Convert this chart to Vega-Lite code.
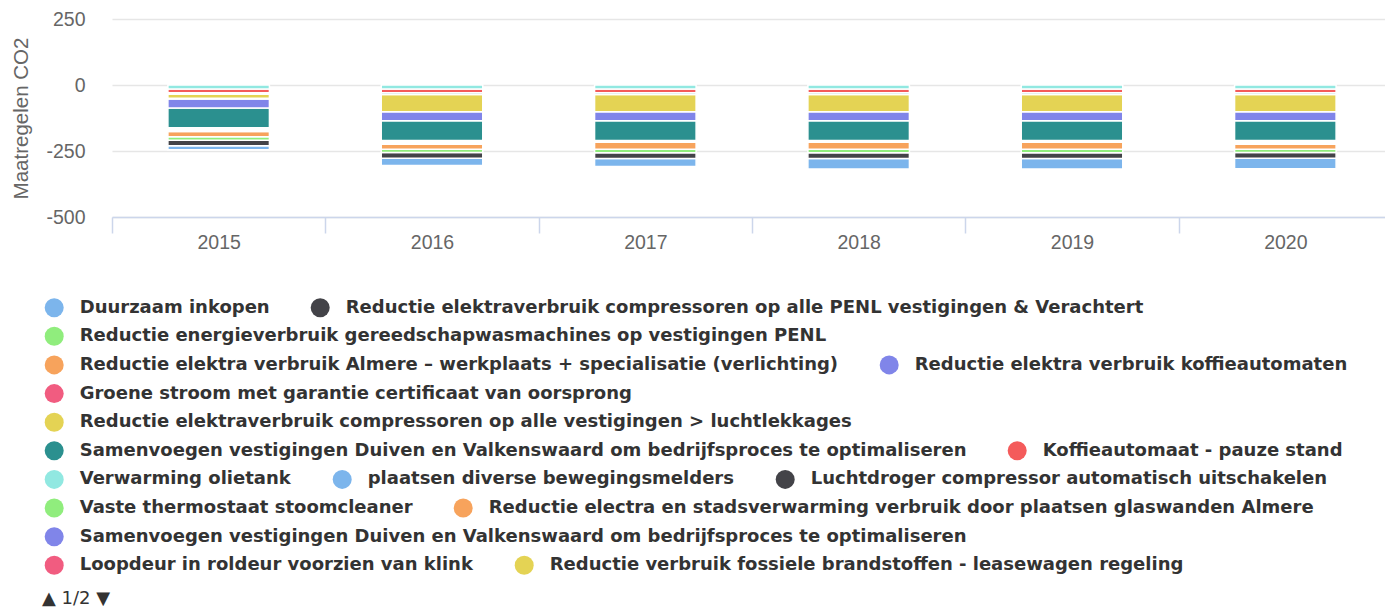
{
  "$schema": "https://vega.github.io/schema/vega-lite/v6.json",
  "width": 1273,
  "height": 198,
  "autosize": {"type": "none"},
  "padding": {"left": 112, "top": 19, "right": 0, "bottom": 391},
  "background": "white",
  "title": {"text": "▲ 1/2 ▼", "orient": "bottom", "anchor": "start", "frame": "group", "dx": -70, "offset": 15, "font": "DejaVu Sans", "fontSize": 18, "fontWeight": "normal", "color": "#333333"},
  "data": {"values": [
    {"year": "2015", "idx": 1, "series": "Duurzaam inkopen", "value": -15},
    {"year": "2016", "idx": 1, "series": "Duurzaam inkopen", "value": -28},
    {"year": "2017", "idx": 1, "series": "Duurzaam inkopen", "value": -31},
    {"year": "2018", "idx": 1, "series": "Duurzaam inkopen", "value": -40},
    {"year": "2019", "idx": 1, "series": "Duurzaam inkopen", "value": -40},
    {"year": "2020", "idx": 1, "series": "Duurzaam inkopen", "value": -40},
    {"year": "2015", "idx": 2, "series": "Reductie elektraverbruik compressoren op alle PENL vestigingen & Verachtert", "value": -21},
    {"year": "2016", "idx": 2, "series": "Reductie elektraverbruik compressoren op alle PENL vestigingen & Verachtert", "value": -21},
    {"year": "2017", "idx": 2, "series": "Reductie elektraverbruik compressoren op alle PENL vestigingen & Verachtert", "value": -21},
    {"year": "2018", "idx": 2, "series": "Reductie elektraverbruik compressoren op alle PENL vestigingen & Verachtert", "value": -21},
    {"year": "2019", "idx": 2, "series": "Reductie elektraverbruik compressoren op alle PENL vestigingen & Verachtert", "value": -21},
    {"year": "2020", "idx": 2, "series": "Reductie elektraverbruik compressoren op alle PENL vestigingen & Verachtert", "value": -21},
    {"year": "2015", "idx": 3, "series": "Reductie energieverbruik gereedschapwasmachines op vestigingen PENL", "value": -13},
    {"year": "2016", "idx": 3, "series": "Reductie energieverbruik gereedschapwasmachines op vestigingen PENL", "value": -13},
    {"year": "2017", "idx": 3, "series": "Reductie energieverbruik gereedschapwasmachines op vestigingen PENL", "value": -14},
    {"year": "2018", "idx": 3, "series": "Reductie energieverbruik gereedschapwasmachines op vestigingen PENL", "value": -14},
    {"year": "2019", "idx": 3, "series": "Reductie energieverbruik gereedschapwasmachines op vestigingen PENL", "value": -14},
    {"year": "2020", "idx": 3, "series": "Reductie energieverbruik gereedschapwasmachines op vestigingen PENL", "value": -13},
    {"year": "2015", "idx": 4, "series": "Reductie elektra verbruik Almere – werkplaats + specialisatie (verlichting)", "value": -20},
    {"year": "2016", "idx": 4, "series": "Reductie elektra verbruik Almere – werkplaats + specialisatie (verlichting)", "value": -19},
    {"year": "2017", "idx": 4, "series": "Reductie elektra verbruik Almere – werkplaats + specialisatie (verlichting)", "value": -26},
    {"year": "2018", "idx": 4, "series": "Reductie elektra verbruik Almere – werkplaats + specialisatie (verlichting)", "value": -26},
    {"year": "2019", "idx": 4, "series": "Reductie elektra verbruik Almere – werkplaats + specialisatie (verlichting)", "value": -26},
    {"year": "2020", "idx": 4, "series": "Reductie elektra verbruik Almere – werkplaats + specialisatie (verlichting)", "value": -19},
    {"year": "2015", "idx": 5, "series": "Reductie elektra verbruik koffieautomaten", "value": -5},
    {"year": "2016", "idx": 5, "series": "Reductie elektra verbruik koffieautomaten", "value": -5},
    {"year": "2017", "idx": 5, "series": "Reductie elektra verbruik koffieautomaten", "value": -2},
    {"year": "2018", "idx": 5, "series": "Reductie elektra verbruik koffieautomaten", "value": -2},
    {"year": "2019", "idx": 5, "series": "Reductie elektra verbruik koffieautomaten", "value": -2},
    {"year": "2020", "idx": 5, "series": "Reductie elektra verbruik koffieautomaten", "value": -5},
    {"year": "2015", "idx": 6, "series": "Groene stroom met garantie certificaat van oorsprong", "value": -4},
    {"year": "2016", "idx": 6, "series": "Groene stroom met garantie certificaat van oorsprong", "value": -4},
    {"year": "2017", "idx": 6, "series": "Groene stroom met garantie certificaat van oorsprong", "value": -3},
    {"year": "2018", "idx": 6, "series": "Groene stroom met garantie certificaat van oorsprong", "value": -3},
    {"year": "2019", "idx": 6, "series": "Groene stroom met garantie certificaat van oorsprong", "value": -3},
    {"year": "2020", "idx": 6, "series": "Groene stroom met garantie certificaat van oorsprong", "value": -4},
    {"year": "2015", "idx": 7, "series": "Reductie elektraverbruik compressoren op alle vestigingen > luchtlekkages", "value": -5},
    {"year": "2016", "idx": 7, "series": "Reductie elektraverbruik compressoren op alle vestigingen > luchtlekkages", "value": -5},
    {"year": "2017", "idx": 7, "series": "Reductie elektraverbruik compressoren op alle vestigingen > luchtlekkages", "value": -2},
    {"year": "2018", "idx": 7, "series": "Reductie elektraverbruik compressoren op alle vestigingen > luchtlekkages", "value": -2},
    {"year": "2019", "idx": 7, "series": "Reductie elektraverbruik compressoren op alle vestigingen > luchtlekkages", "value": -2},
    {"year": "2020", "idx": 7, "series": "Reductie elektraverbruik compressoren op alle vestigingen > luchtlekkages", "value": -5},
    {"year": "2015", "idx": 8, "series": "Samenvoegen vestigingen Duiven en Valkenswaard om bedrijfsproces te optimaliseren", "value": -75},
    {"year": "2016", "idx": 8, "series": "Samenvoegen vestigingen Duiven en Valkenswaard om bedrijfsproces te optimaliseren", "value": -75},
    {"year": "2017", "idx": 8, "series": "Samenvoegen vestigingen Duiven en Valkenswaard om bedrijfsproces te optimaliseren", "value": -75},
    {"year": "2018", "idx": 8, "series": "Samenvoegen vestigingen Duiven en Valkenswaard om bedrijfsproces te optimaliseren", "value": -75},
    {"year": "2019", "idx": 8, "series": "Samenvoegen vestigingen Duiven en Valkenswaard om bedrijfsproces te optimaliseren", "value": -75},
    {"year": "2020", "idx": 8, "series": "Samenvoegen vestigingen Duiven en Valkenswaard om bedrijfsproces te optimaliseren", "value": -75},
    {"year": "2015", "idx": 15, "series": "Samenvoegen vestigingen Duiven en Valkenswaard om bedrijfsproces te optimaliseren", "value": -34},
    {"year": "2016", "idx": 15, "series": "Samenvoegen vestigingen Duiven en Valkenswaard om bedrijfsproces te optimaliseren", "value": -34},
    {"year": "2017", "idx": 15, "series": "Samenvoegen vestigingen Duiven en Valkenswaard om bedrijfsproces te optimaliseren", "value": -34},
    {"year": "2018", "idx": 15, "series": "Samenvoegen vestigingen Duiven en Valkenswaard om bedrijfsproces te optimaliseren", "value": -34},
    {"year": "2019", "idx": 15, "series": "Samenvoegen vestigingen Duiven en Valkenswaard om bedrijfsproces te optimaliseren", "value": -34},
    {"year": "2020", "idx": 15, "series": "Samenvoegen vestigingen Duiven en Valkenswaard om bedrijfsproces te optimaliseren", "value": -34},
    {"year": "2015", "idx": 16, "series": "Loopdeur in roldeur voorzien van klink", "value": -3},
    {"year": "2015", "idx": 17, "series": "Reductie verbruik fossiele brandstoffen - leasewagen regeling", "value": -15},
    {"year": "2016", "idx": 17, "series": "Reductie verbruik fossiele brandstoffen - leasewagen regeling", "value": -65},
    {"year": "2017", "idx": 17, "series": "Reductie verbruik fossiele brandstoffen - leasewagen regeling", "value": -65},
    {"year": "2018", "idx": 17, "series": "Reductie verbruik fossiele brandstoffen - leasewagen regeling", "value": -65},
    {"year": "2019", "idx": 17, "series": "Reductie verbruik fossiele brandstoffen - leasewagen regeling", "value": -65},
    {"year": "2020", "idx": 17, "series": "Reductie verbruik fossiele brandstoffen - leasewagen regeling", "value": -65},
    {"year": "2015", "idx": 18, "series": "Overige maatregel 1", "value": -6},
    {"year": "2016", "idx": 18, "series": "Overige maatregel 1", "value": -7},
    {"year": "2017", "idx": 18, "series": "Overige maatregel 1", "value": -7},
    {"year": "2018", "idx": 18, "series": "Overige maatregel 1", "value": -7},
    {"year": "2019", "idx": 18, "series": "Overige maatregel 1", "value": -7},
    {"year": "2020", "idx": 18, "series": "Overige maatregel 1", "value": -7},
    {"year": "2015", "idx": 19, "series": "Overige maatregel 2", "value": -14},
    {"year": "2016", "idx": 19, "series": "Overige maatregel 2", "value": -14},
    {"year": "2017", "idx": 19, "series": "Overige maatregel 2", "value": -14},
    {"year": "2018", "idx": 19, "series": "Overige maatregel 2", "value": -14},
    {"year": "2019", "idx": 19, "series": "Overige maatregel 2", "value": -14},
    {"year": "2020", "idx": 19, "series": "Overige maatregel 2", "value": -14},
    {"year": "2015", "idx": 20, "series": "Overige maatregel 3", "value": -15},
    {"year": "2016", "idx": 20, "series": "Overige maatregel 3", "value": -15},
    {"year": "2017", "idx": 20, "series": "Overige maatregel 3", "value": -15},
    {"year": "2018", "idx": 20, "series": "Overige maatregel 3", "value": -15},
    {"year": "2019", "idx": 20, "series": "Overige maatregel 3", "value": -15},
    {"year": "2020", "idx": 20, "series": "Overige maatregel 3", "value": -15}
  ]},
  "transform": [
    {"stack": "value", "groupby": ["year"], "sort": [{"field": "idx", "order": "descending"}], "as": ["y0", "y1"]}
  ],
  "encoding": {
    "x": {"field": "year", "type": "ordinal", "sort": ["2015", "2016", "2017", "2018", "2019", "2020"],
      "scale": {"domain": ["2015", "2016", "2017", "2018", "2019", "2020"], "paddingInner": 0, "paddingOuter": 0, "range": [0, 1280]},
      "axis": {"title": null, "labelAngle": 0, "labelFont": "Liberation Sans", "labelFontSize": 19.5, "labelColor": "#666666", "labelPadding": 0,
        "domainColor": "#ccd6eb", "domainWidth": 1.5, "tickColor": "#ccd6eb", "tickWidth": 1.5, "tickSize": 16, "tickBand": "extent", "grid": false}},
    "y": {"field": "y0", "type": "quantitative",
      "scale": {"domain": [-500, 250], "nice": false, "zero": false},
      "axis": {"values": [-500, -250, 0, 250], "labelExpr": "toString(datum.value)", "title": "Maatregelen CO2", "titleFont": "Liberation Sans", "titleFontSize": 20.5, "titleFontWeight": "normal", "titleColor": "#666666", "titlePadding": 14,
        "labelFont": "Liberation Sans", "labelFontSize": 19.5, "labelColor": "#666666", "labelPadding": 27,
        "domain": false, "ticks": false, "grid": true, "gridColor": "#e6e6e6", "gridWidth": 1.5}},
    "y2": {"field": "y1"}
  },
  "layer": [
    {"transform": [{"filter": {"field": "idx", "oneOf": [1, 2]}}],
     "mark": {"type": "bar", "stroke": "white", "strokeWidth": 1.5, "width": {"band": 0.476}},
     "encoding": {"color": {"field": "series", "type": "nominal",
       "scale": {"domain": ["Duurzaam inkopen", "Reductie elektraverbruik compressoren op alle PENL vestigingen & Verachtert"], "range": ["#7cb5ec", "#434348"]},
       "legend": {"orient": "none", "legendX": -67.3, "legendY": 279.2, "direction": "horizontal", "title": null, "symbolType": "circle"}}}},
    {"transform": [{"filter": {"field": "idx", "oneOf": [3]}}],
     "mark": {"type": "bar", "stroke": "white", "strokeWidth": 1.5, "width": {"band": 0.476}},
     "encoding": {"color": {"field": "series", "type": "nominal",
       "scale": {"domain": ["Reductie energieverbruik gereedschapwasmachines op vestigingen PENL"], "range": ["#90ed7d"]},
       "legend": {"orient": "none", "legendX": -67.3, "legendY": 307.8, "direction": "horizontal", "title": null, "symbolType": "circle"}}}},
    {"transform": [{"filter": {"field": "idx", "oneOf": [4, 5]}}],
     "mark": {"type": "bar", "stroke": "white", "strokeWidth": 1.5, "width": {"band": 0.476}},
     "encoding": {"color": {"field": "series", "type": "nominal",
       "scale": {"domain": ["Reductie elektra verbruik Almere – werkplaats + specialisatie (verlichting)", "Reductie elektra verbruik koffieautomaten"], "range": ["#f7a35c", "#8085e9"]},
       "legend": {"orient": "none", "legendX": -67.3, "legendY": 336.4, "direction": "horizontal", "title": null, "symbolType": "circle"}}}},
    {"transform": [{"filter": {"field": "idx", "oneOf": [6]}}],
     "mark": {"type": "bar", "stroke": "white", "strokeWidth": 1.5, "width": {"band": 0.476}},
     "encoding": {"color": {"field": "series", "type": "nominal",
       "scale": {"domain": ["Groene stroom met garantie certificaat van oorsprong"], "range": ["#f15c80"]},
       "legend": {"orient": "none", "legendX": -67.3, "legendY": 365.1, "direction": "horizontal", "title": null, "symbolType": "circle"}}}},
    {"transform": [{"filter": {"field": "idx", "oneOf": [7]}}],
     "mark": {"type": "bar", "stroke": "white", "strokeWidth": 1.5, "width": {"band": 0.476}},
     "encoding": {"color": {"field": "series", "type": "nominal",
       "scale": {"domain": ["Reductie elektraverbruik compressoren op alle vestigingen > luchtlekkages"], "range": ["#e4d354"]},
       "legend": {"orient": "none", "legendX": -67.3, "legendY": 393.7, "direction": "horizontal", "title": null, "symbolType": "circle"}}}},
    {"transform": [{"filter": {"field": "idx", "oneOf": [8, 9]}}],
     "mark": {"type": "bar", "stroke": "white", "strokeWidth": 1.5, "width": {"band": 0.476}},
     "encoding": {"color": {"field": "series", "type": "nominal",
       "scale": {"domain": ["Samenvoegen vestigingen Duiven en Valkenswaard om bedrijfsproces te optimaliseren", "Koffieautomaat - pauze stand"], "range": ["#2b908f", "#f45b5b"]},
       "legend": {"orient": "none", "legendX": -67.3, "legendY": 422.3, "direction": "horizontal", "title": null, "symbolType": "circle"}}}},
    {"transform": [{"filter": {"field": "idx", "oneOf": [10, 11, 12]}}],
     "mark": {"type": "bar", "stroke": "white", "strokeWidth": 1.5, "width": {"band": 0.476}},
     "encoding": {"color": {"field": "series", "type": "nominal",
       "scale": {"domain": ["Verwarming olietank", "plaatsen diverse bewegingsmelders", "Luchtdroger compressor automatisch uitschakelen"], "range": ["#91e8e1", "#7cb5ec", "#434348"]},
       "legend": {"orient": "none", "legendX": -67.3, "legendY": 450.9, "direction": "horizontal", "title": null, "symbolType": "circle"}}}},
    {"transform": [{"filter": {"field": "idx", "oneOf": [13, 14]}}],
     "mark": {"type": "bar", "stroke": "white", "strokeWidth": 1.5, "width": {"band": 0.476}},
     "encoding": {"color": {"field": "series", "type": "nominal",
       "scale": {"domain": ["Vaste thermostaat stoomcleaner", "Reductie electra en stadsverwarming verbruik door plaatsen glaswanden Almere"], "range": ["#90ed7d", "#f7a35c"]},
       "legend": {"orient": "none", "legendX": -67.3, "legendY": 479.5, "direction": "horizontal", "title": null, "symbolType": "circle"}}}},
    {"transform": [{"filter": {"field": "idx", "oneOf": [15]}}],
     "mark": {"type": "bar", "stroke": "white", "strokeWidth": 1.5, "width": {"band": 0.476}},
     "encoding": {"color": {"field": "series", "type": "nominal",
       "scale": {"domain": ["Samenvoegen vestigingen Duiven en Valkenswaard om bedrijfsproces te optimaliseren"], "range": ["#8085e9"]},
       "legend": {"orient": "none", "legendX": -67.3, "legendY": 508.2, "direction": "horizontal", "title": null, "symbolType": "circle"}}}},
    {"transform": [{"filter": {"field": "idx", "oneOf": [16, 17]}}],
     "mark": {"type": "bar", "stroke": "white", "strokeWidth": 1.5, "width": {"band": 0.476}},
     "encoding": {"color": {"field": "series", "type": "nominal",
       "scale": {"domain": ["Loopdeur in roldeur voorzien van klink", "Reductie verbruik fossiele brandstoffen - leasewagen regeling"], "range": ["#f15c80", "#e4d354"]},
       "legend": {"orient": "none", "legendX": -67.3, "legendY": 536.8, "direction": "horizontal", "title": null, "symbolType": "circle"}}}},
    {"transform": [{"filter": {"field": "idx", "oneOf": [18, 19, 20]}}],
     "mark": {"type": "bar", "stroke": "white", "strokeWidth": 1.5, "width": {"band": 0.476}},
     "encoding": {"color": {"field": "series", "type": "nominal",
       "scale": {"domain": ["Overige maatregel 1", "Overige maatregel 2", "Overige maatregel 3"], "range": ["#2b908f", "#f45b5b", "#91e8e1"]},
       "legend": null}}}
  ],
  "resolve": {"scale": {"color": "independent"}, "legend": {"color": "independent"}},
  "config": {
    "view": {"stroke": null},
    "legend": {"symbolType": "circle", "symbolSize": 361, "symbolStrokeWidth": 0, "symbolOpacity": 1,
      "labelFont": "DejaVu Sans", "labelFontSize": 18, "labelFontWeight": "bold", "labelColor": "#333333",
      "labelOffset": 16, "columnPadding": 41, "padding": 0, "labelLimit": 3000, "rowPadding": 0}
  }
}
